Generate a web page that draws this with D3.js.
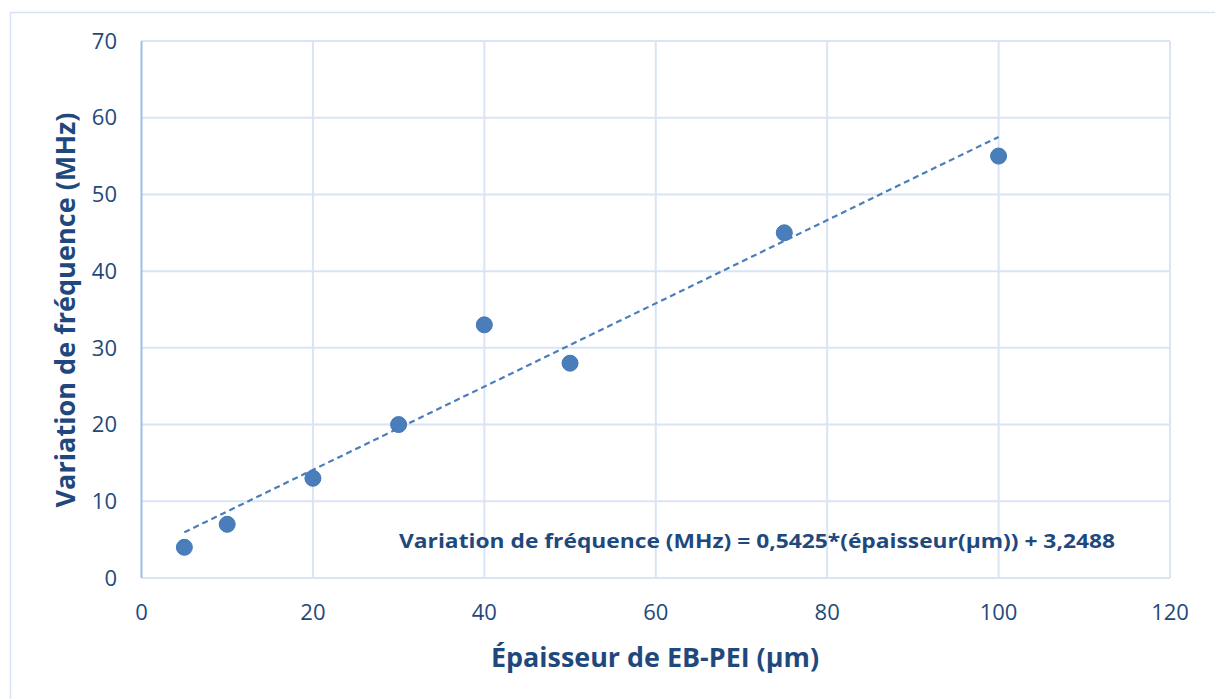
<!DOCTYPE html>
<html><head><meta charset="utf-8">
<script src="https://cdn.jsdelivr.net/npm/d3@7"></script>
<style>body{margin:0;background:#fff}svg{display:block}</style>
</head><body>
<svg id="c" width="1215" height="699"></svg>
<script>
const thickness = [5, 10, 20, 30, 40, 50, 75, 100];
const freqVar = [4, 7, 13, 20, 33, 28, 45, 55];
const xTicks = [0, 20, 40, 60, 80, 100, 120];
const yTicks = [0, 10, 20, 30, 40, 50, 60, 70];
const slope = 0.5425, intercept = 3.2488;
const trendRange = [5, 100];
const xTitle = "Épaisseur de EB-PEI (µm)";
const yTitle = "Variation de fréquence (MHz)";
const eqText = "Variation de fréquence (MHz) = 0,5425*(épaisseur(µm)) + 3,2488";

const svg = d3.select("#c");
const font = "'Open Sans', Calibri, sans-serif";
const txt = "#1f497d";
const x = d3.scaleLinear().domain([0,120]).range([141.5,1170]);
const y = d3.scaleLinear().domain([0,70]).range([578,41]);

svg.append("rect").attr("x",10.5).attr("y",12.5).attr("width",1400).attr("height",1000)
  .attr("fill","none").attr("stroke","#d6e3f5").attr("stroke-width",1.5);

const g = svg.append("g");
g.selectAll(".hg").data(yTicks.filter(d=>d>0)).enter().append("line")
  .attr("x1",x(0)).attr("x2",x(120)).attr("y1",d=>y(d)).attr("y2",d=>y(d))
  .attr("stroke","#d9e4f4").attr("stroke-width",2);
g.selectAll(".vg").data(xTicks.filter(d=>d>0)).enter().append("line")
  .attr("y1",y(0)).attr("y2",y(70)).attr("x1",d=>x(d)).attr("x2",d=>x(d))
  .attr("stroke","#d9e4f4").attr("stroke-width",2);
g.append("line").attr("x1",x(0)).attr("x2",x(120)).attr("y1",y(0)).attr("y2",y(0))
  .attr("stroke","#d9e4f4").attr("stroke-width",2);
g.append("line").attr("x1",x(0)).attr("x2",x(0)).attr("y1",y(0)).attr("y2",y(70))
  .attr("stroke","#9dbde8").attr("stroke-width",2);

g.selectAll(".yt").data(yTicks).enter().append("text")
  .attr("x",117).attr("y",d=>y(d)).attr("dy","0.35em").attr("text-anchor","end")
  .attr("font-family",font).attr("font-size",22).attr("fill",txt).text(d=>d);
g.selectAll(".xt").data(xTicks).enter().append("text")
  .attr("x",d=>x(d)).attr("y",612).attr("dy","0.35em").attr("text-anchor","middle")
  .attr("font-family",font).attr("font-size",22).attr("fill",txt).text(d=>d);

const line = d3.line().x(d=>x(d)).y(d=>y(slope*d+intercept));
g.append("path").attr("d",line(trendRange)).attr("fill","none")
  .attr("stroke","#4a7ebb").attr("stroke-width",2.2).attr("stroke-dasharray","6,4");

g.selectAll(".pt").data(thickness).enter().append("circle")
  .attr("cx",d=>x(d)).attr("cy",(d,i)=>y(freqVar[i])).attr("r",8)
  .attr("fill","#4a7ebb").attr("stroke","#4277b5").attr("stroke-width",1);

svg.append("text").attr("x",757).attr("y",541).attr("dy","0.35em").attr("text-anchor","middle")
  .attr("font-family",font).attr("font-weight","bold").attr("font-size",20).attr("fill",txt)
  .attr("textLength",716).attr("lengthAdjust","spacingAndGlyphs").text(eqText);

svg.append("text").attr("x",655).attr("y",658).attr("dy","0.35em").attr("text-anchor","middle")
  .attr("font-family",font).attr("font-weight","bold").attr("font-size",26).attr("fill",txt)
  .attr("textLength",328).attr("lengthAdjust","spacingAndGlyphs").text(xTitle);

svg.append("text").attr("transform","translate(66,310) rotate(-90)").attr("dy","0.35em")
  .attr("text-anchor","middle")
  .attr("font-family",font).attr("font-weight","bold").attr("font-size",26).attr("fill",txt)
  .attr("textLength",395).attr("lengthAdjust","spacingAndGlyphs").text(yTitle);
</script>
</body></html>
